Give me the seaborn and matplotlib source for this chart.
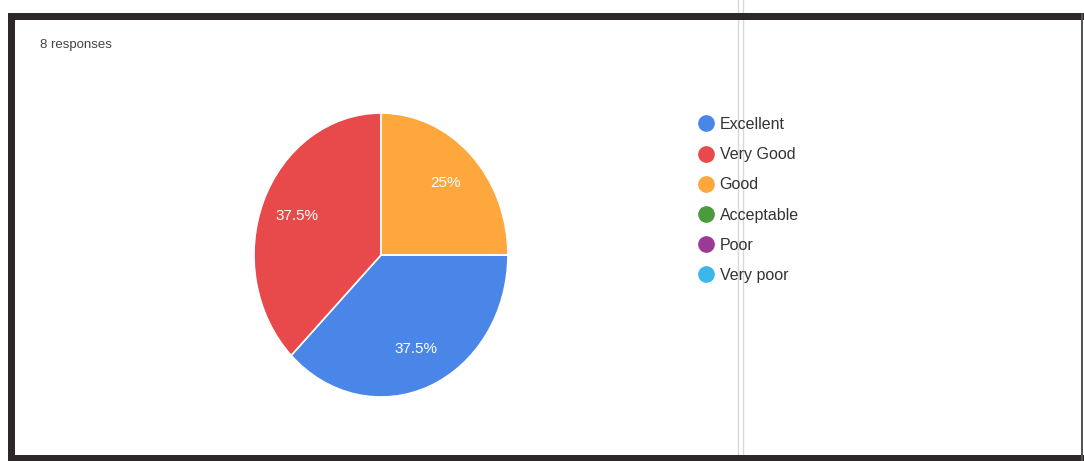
import matplotlib
matplotlib.use("Agg")
import matplotlib.pyplot as plt
import seaborn as sns
from matplotlib.lines import Line2D
from matplotlib.patches import Rectangle

sns.set_theme(style="white")
plt.rcParams['font.family'] = ['Liberation Sans', 'DejaVu Sans']

# survey answers (8 responses)
categories = ["Excellent", "Very Good", "Good", "Acceptable", "Poor", "Very poor"]
counts = [3, 3, 2, 0, 0, 0]
colors = ["#4a86e8", "#e8494a", "#fda73c", "#4a9a3e", "#9b3997", "#3db6ea"]

fig = plt.figure(figsize=(10.84, 4.61), dpi=100)
fig.patch.set_facecolor("white")

# pie area (slightly oval like the scan)
ax = fig.add_axes([0.2343, 0.1388, 0.2343, 0.616])


def pct_label(p):
    return "" if p < 0.01 else f"{p:.1f}%".replace(".0%", "%")


wedges, texts, autotexts = ax.pie(
    counts,
    colors=colors,
    startangle=0,
    counterclock=False,
    autopct=pct_label,
    pctdistance=0.72,
    wedgeprops=dict(edgecolor="white", linewidth=1.2),
    textprops=dict(color="white", fontsize=11),
)
ax.set_aspect("auto")
ax.set_xlim(-1, 1)
ax.set_ylim(-1, 1)

# legend with round markers
handles = [
    Line2D([0], [0], marker="o", linestyle="", markersize=11,
           markerfacecolor=c, markeredgecolor=c)
    for c in colors
]
leg = fig.legend(
    handles, categories,
    loc="upper left",
    bbox_to_anchor=(690 / 1084, 1 - 109 / 461),
    frameon=False,
    fontsize=11.5,
    labelspacing=0.95,
    handletextpad=0.35,
    handlelength=1.0,
    borderpad=0,
)
for t in leg.get_texts():
    t.set_color("#333333")

fig.text(40 / 1084, 1 - 45 / 461, "8 responses", fontsize=9.5,
         color="#444444", va="center", ha="left")

# dark frame of the scanned card
fig.patches.append(Rectangle((0, 0), 12 / 1084, 1, transform=fig.transFigure,
                             facecolor="white", edgecolor="none", zorder=0))
frame_kw = dict(transform=fig.transFigure, facecolor="#2b272b",
                edgecolor="none", zorder=5)
fig.patches.append(Rectangle((8 / 1084, 0), 7 / 1084, 1 - 13 / 461, **frame_kw))
fig.patches.append(Rectangle((8 / 1084, 1 - 20 / 461), 1 - 8 / 1084, 7 / 461, **frame_kw))
fig.patches.append(Rectangle((8 / 1084, 0), 1 - 8 / 1084, 6 / 461, **frame_kw))
fig.patches.append(Rectangle((1 - 3 / 1084, 0), 2 / 1084, 1 - 13 / 461,
                             transform=fig.transFigure, facecolor="#555555",
                             edgecolor="none", zorder=5))

# faint scanner streak
for xs in (738, 743):
    fig.add_artist(Line2D([xs / 1084, xs / 1084], [0, 1], transform=fig.transFigure,
                          color="#d8d8d8", linewidth=1, zorder=1))

fig.savefig("out.png", dpi=100, facecolor="white")
